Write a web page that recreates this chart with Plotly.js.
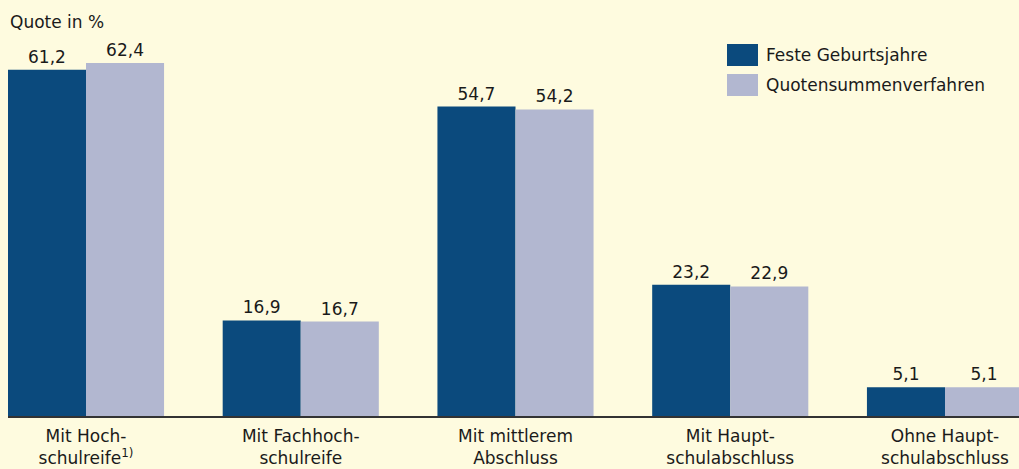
<!DOCTYPE html>
<html><head><meta charset="utf-8">
<script src="https://cdn.plot.ly/plotly-3.0.1.min.js"></script>
<style>html,body{margin:0;padding:0;background:#fefbdf;}#c{width:1019px;height:469px;}</style>
</head><body><div id="c"></div>
<script>
const categories = ["Mit Hoch-<br>schulreife<sup>1)</sup>", "Mit Fachhoch-<br>schulreife", "Mit mittlerem<br>Abschluss", "Mit Haupt-<br>schulabschluss", "Ohne Haupt-<br>schulabschluss"];
const seriesNames = ["Feste Geburtsjahre", "Quotensummenverfahren"];
const festeGeburtsjahre = [61.2, 16.9, 54.7, 23.2, 5.1];
const quotensummenverfahren = [62.4, 16.7, 54.2, 22.9, 5.1];
const colors = ["#0b4a7d", "#b2b7d0"];
const idx = categories.map((c, i) => i);

const font = "DejaVu Sans, Liberation Sans, Arial, sans-serif";
const fs = 17;
const traces = [festeGeburtsjahre, quotensummenverfahren].map((vals, k) => ({
  type: "bar", x: idx, y: vals, name: seriesNames[k],
  marker: {color: colors[k], line: {width: 0}},
  texttemplate: "%{y:.1f}", textposition: "outside", cliponaxis: false,
  textfont: {family: font, size: fs, color: "#1a1a1a"},
  hoverinfo: "none", showlegend: false
}));

const legendShapes = [], legendAnn = [];
seriesNames.forEach((n, k) => {
  legendShapes.push({type: "rect", xref: "paper", yref: "paper",
    x0: (727 - 8) / 1011, x1: (758 - 8) / 1011,
    y0: (416 - (66 + 30 * k)) / 396, y1: (416 - (44 + 30 * k)) / 396,
    fillcolor: colors[k], line: {width: 0}});
  legendAnn.push({xref: "paper", yref: "paper", x: (764 - 8) / 1011, y: (416 - (55 + 30 * k)) / 396,
    xanchor: "left", yanchor: "middle", text: n, showarrow: false,
    font: {family: font, size: fs, color: "#1a1a1a"}});
});
legendAnn.push({xref: "paper", yref: "paper", x: 0, y: (416 - 22) / 396, xanchor: "left", yanchor: "middle",
  text: "Quote in %", showarrow: false, font: {family: font, size: fs, color: "#1a1a1a"}});

const layout = {
  width: 1019, height: 469,
  paper_bgcolor: "#fefbdf", plot_bgcolor: "#fefbdf",
  margin: {l: 8, r: 0, t: 20, b: 53},
  barmode: "group", bargap: 0.273, bargroupgap: 0,
  separators: ",.",
  xaxis: {range: [-0.3632, 4.3446], tickvals: idx, ticktext: categories, ticks: "",
    showline: true, linecolor: "#333333", linewidth: 1.5, showgrid: false, zeroline: false,
    ticklabelstandoff: 4,
    tickfont: {family: font, size: fs, color: "#1a1a1a"}},
  yaxis: {range: [0, 70], visible: false, showgrid: false, zeroline: false},
  shapes: legendShapes, annotations: legendAnn, font: {family: font}
};
Plotly.newPlot("c", traces, layout, {displayModeBar: false, staticPlot: true});
</script></body></html>
